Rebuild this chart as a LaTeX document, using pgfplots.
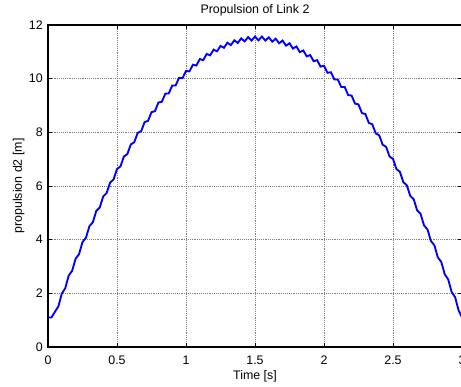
\documentclass[border=0pt]{standalone}
\usepackage{pgfplots}
\pgfplotsset{compat=1.18}
\usepackage{fontspec}
\setmainfont{Liberation Sans}
\definecolor{mblue}{RGB}{0,0,255}
\begin{document}
\begin{tikzpicture}[font=\fontsize{9.3}{11}\selectfont]
\path[use as bounding box] (-36pt,-29.25pt) rectangle (309.75pt,260.25pt);
\begin{scope}[overlay]
\clip (-36pt,-29.25pt) rectangle (309.75pt,260.25pt);
\begin{axis}[
  at={(0,0)}, anchor=south west,
  scale only axis,
  width=310.5pt, height=241.5pt,
  xmin=0, xmax=3, ymin=0, ymax=12,
  xtick={0,0.5,1,1.5,2,2.5,3},
  ytick={0,2,4,6,8,10,12},
  /pgf/number format/assume math mode=true,
  tick pos=both, tick align=inside,
  major tick length=3pt,
  tick style={black, line width=0.5pt},
  axis line style={black, line width=0.8pt},
  grid=major,
  major grid style={black!50, densely dotted, line width=0.5pt},
  title={Propulsion of Link 2},
  title style={at={(axis description cs:0.5,1.0094)}, anchor=base, inner sep=0pt},
  xlabel={Time [s]},
  xlabel style={at={(axis description cs:0.5,-0.0994)}, anchor=base, inner sep=0pt},
  ylabel={propulsion d2 [m]},
  ylabel style={at={(axis description cs:-0.0628,0.5)}, anchor=base, inner sep=0pt},
  xticklabel style={anchor=base, yshift=-13.3pt, inner sep=0pt},
  yticklabel style={anchor=east, inner sep=0pt, xshift=-3.75pt},
]
\addplot[mblue, line width=1.4pt] coordinates {
(0,1.10) (0.025,1.10) (0.05,1.31) (0.075,1.51) (0.1,1.99) (0.125,2.19) (0.15,2.66) (0.175,2.84)
(0.2,3.29) (0.225,3.46) (0.25,3.91) (0.275,4.07) (0.3,4.50) (0.325,4.65) (0.35,5.07) (0.375,5.20)
(0.4,5.61) (0.425,5.74) (0.45,6.13) (0.475,6.24) (0.5,6.63) (0.525,6.73) (0.55,7.10) (0.575,7.19)
(0.6,7.55) (0.625,7.63) (0.65,7.98) (0.675,8.04) (0.7,8.38) (0.725,8.43) (0.75,8.75) (0.775,8.79)
(0.8,9.11) (0.825,9.14) (0.85,9.44) (0.875,9.45) (0.9,9.74) (0.925,9.75) (0.95,10.03) (0.975,10.02)
(1.0,10.29) (1.025,10.27) (1.05,10.52) (1.075,10.49) (1.1,10.73) (1.125,10.69) (1.15,10.92) (1.175,10.87)
(1.2,11.08) (1.225,11.02) (1.25,11.22) (1.275,11.15) (1.3,11.34) (1.325,11.25) (1.35,11.43) (1.375,11.33)
(1.4,11.50) (1.425,11.39) (1.45,11.55) (1.475,11.42) (1.5,11.57) (1.525,11.43) (1.55,11.57) (1.575,11.42)
(1.6,11.54) (1.625,11.38) (1.65,11.49) (1.675,11.32) (1.7,11.42) (1.725,11.23) (1.75,11.32) (1.775,11.12)
(1.8,11.20) (1.825,10.99) (1.85,11.05) (1.875,10.83) (1.9,10.88) (1.925,10.65) (1.95,10.69) (1.975,10.45)
(2.0,10.48) (2.025,10.22) (2.05,10.24) (2.075,9.97) (2.1,9.97) (2.125,9.69) (2.15,9.69) (2.175,9.39)
(2.2,9.37) (2.225,9.07) (2.25,9.04) (2.275,8.72) (2.3,8.68) (2.325,8.35) (2.35,8.30) (2.375,7.96)
(2.4,7.89) (2.425,7.54) (2.45,7.46) (2.475,7.10) (2.5,7.01) (2.525,6.63) (2.55,6.53) (2.575,6.14)
(2.6,6.03) (2.625,5.63) (2.65,5.51) (2.675,5.09) (2.7,4.96) (2.725,4.53) (2.75,4.38) (2.775,3.95)
(2.8,3.79) (2.825,3.34) (2.85,3.17) (2.875,2.71) (2.9,2.52) (2.925,2.05) (2.95,1.86) (2.975,1.37)
(3.0,1.10)
};
\end{axis}
\end{scope}
\end{tikzpicture}
\end{document}
